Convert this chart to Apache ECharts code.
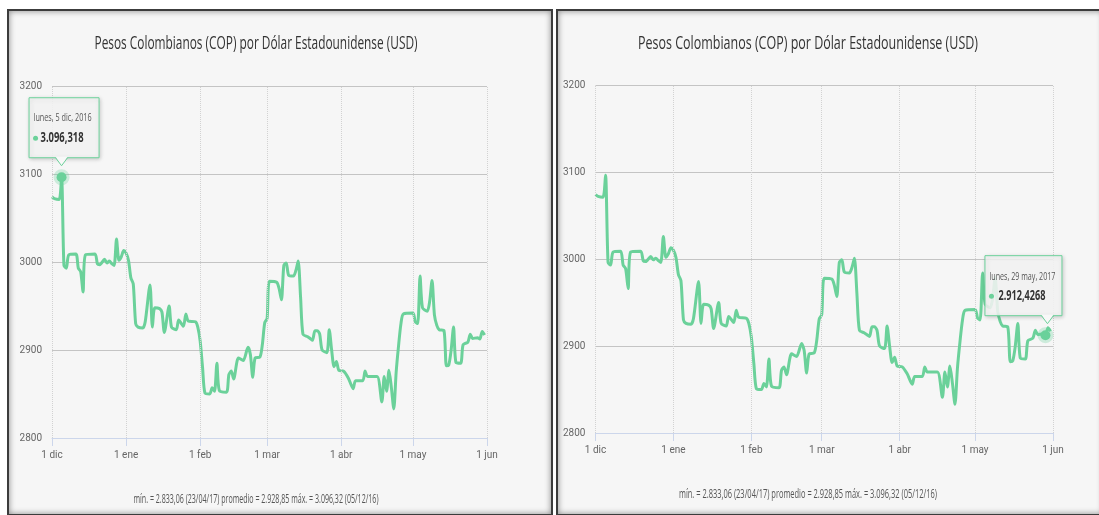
<!DOCTYPE html>
<html>
<head>
<meta charset="utf-8">
<script src="https://cdn.jsdelivr.net/npm/echarts@6/dist/echarts.min.js"></script>
<style>
	html, body { margin: 0; padding: 0; background: #fff; width: 1099px; height: 515px; overflow: hidden; }
	.frame { position: absolute; top: 9px; height: 503px; border: 2px solid #3c3c3c; background: #f6f6f6; box-shadow: inset 0 0 6px rgba(0, 0, 0, 0.45); }
	.chart { position: absolute; top: 12px; height: 500px; }
</style>
</head>
<body>
<div class="frame" style="left:7px;width:542px;"></div>
<div class="frame" style="left:556px;width:545px;"></div>
<div id="left" class="chart" style="left:10px;width:541px;"></div>
<div id="right" class="chart" style="left:560px;width:537px;"></div>
<script>
let axisFont = 'Roboto, sans-serif'
let textFont = "'Open Sans', sans-serif"
let green = '#6bd19a'

// tipo de cambio COP por USD
let dates = ['2016-12-01', '2016-12-02', '2016-12-04', '2016-12-05', '2016-12-06', '2016-12-07', '2016-12-08', '2016-12-11',
	'2016-12-12', '2016-12-13', '2016-12-14', '2016-12-15', '2016-12-19', '2016-12-20', '2016-12-21', '2016-12-23',
	'2016-12-24', '2016-12-25', '2016-12-26', '2016-12-27', '2016-12-28', '2016-12-29', '2016-12-30', '2016-12-31',
	'2017-01-01', '2017-01-02', '2017-01-03', '2017-01-04', '2017-01-05', '2017-01-06', '2017-01-08', '2017-01-09',
	'2017-01-11', '2017-01-12', '2017-01-13', '2017-01-15', '2017-01-16', '2017-01-17', '2017-01-19', '2017-01-20',
	'2017-01-22', '2017-01-23', '2017-01-25', '2017-01-26', '2017-01-27', '2017-01-30', '2017-01-31', '2017-02-01',
	'2017-02-02', '2017-02-03', '2017-02-05', '2017-02-06', '2017-02-07', '2017-02-08', '2017-02-09', '2017-02-12',
	'2017-02-13', '2017-02-14', '2017-02-15', '2017-02-17', '2017-02-19', '2017-02-21', '2017-02-22', '2017-02-23',
	'2017-02-24', '2017-02-26', '2017-02-27', '2017-02-28', '2017-03-01', '2017-03-02', '2017-03-05', '2017-03-06',
	'2017-03-07', '2017-03-08', '2017-03-09', '2017-03-10', '2017-03-12', '2017-03-13', '2017-03-14', '2017-03-15',
	'2017-03-16', '2017-03-18', '2017-03-19', '2017-03-20', '2017-03-21', '2017-03-22', '2017-03-23', '2017-03-24',
	'2017-03-26', '2017-03-27', '2017-03-28', '2017-03-29', '2017-03-30', '2017-03-31', '2017-04-02', '2017-04-04',
	'2017-04-06', '2017-04-07', '2017-04-10', '2017-04-11', '2017-04-12', '2017-04-16', '2017-04-18', '2017-04-19',
	'2017-04-20', '2017-04-21', '2017-04-22', '2017-04-23', '2017-04-24', '2017-04-25', '2017-04-26', '2017-04-27',
	'2017-05-01', '2017-05-02', '2017-05-03', '2017-05-04', '2017-05-05', '2017-05-07', '2017-05-08', '2017-05-09',
	'2017-05-10', '2017-05-11', '2017-05-12', '2017-05-14', '2017-05-15', '2017-05-16', '2017-05-17', '2017-05-18',
	'2017-05-19', '2017-05-21', '2017-05-22', '2017-05-24', '2017-05-25', '2017-05-26', '2017-05-28', '2017-05-29',
	'2017-05-30', '2017-05-31']
let values = [3074, 3072, 3071, 3096.32, 2996, 2993, 3008, 3009,
	2993, 2989, 2966, 3008, 3009, 2998, 2997, 3003,
	2999, 3001, 2998, 2996, 3026, 3002, 3006, 3013,
	3010, 3002, 2982, 2975, 2930, 2926, 2925, 2932,
	2974, 2926, 2948, 2947, 2943, 2920, 2950, 2926,
	2923, 2934, 2927, 2941, 2933, 2932, 2926, 2910,
	2880, 2851, 2850, 2857, 2853, 2885, 2854, 2852,
	2872, 2876, 2867, 2891, 2888, 2903, 2895, 2869,
	2891, 2892, 2906, 2931, 2936, 2978, 2977, 2970,
	2957, 2996, 2999, 2985, 2984, 2990, 3001, 2960,
	2918, 2915, 2913, 2911, 2922, 2922, 2918, 2900,
	2897, 2923, 2900, 2881, 2887, 2877, 2876, 2868,
	2856, 2865, 2865, 2876, 2870, 2870, 2841, 2870,
	2853, 2877, 2857, 2833.06, 2875, 2905, 2930, 2941,
	2942, 2932, 2930, 2984, 2948, 2944, 2955, 2979,
	2940, 2928, 2923, 2922, 2882, 2883, 2900, 2926,
	2886, 2885, 2906, 2909, 2918, 2913, 2914, 2912.43,
	2921, 2917]

let monthTicks = ['2016-12-01', '2017-01-01', '2017-02-01', '2017-03-01', '2017-04-01', '2017-05-01', '2017-06-01']
let monthLabels = ['1 dic', '1 ene', '1 feb', '1 mar', '1 abr', '1 may', '1 jun']
let yTicks = [2800, 2900, 3000, 3100, 3200]

let titleText = 'Pesos Colombianos (COP) por Dólar Estadounidense (USD)'
let footerText = 'mín. = 2.833,06 (23/04/17) promedio = 2.928,85 máx. = 3.096,32 (05/12/16)'

function toTime(s) {
	let p = s.split('-')
	return +new Date(+p[0], +p[1] - 1, +p[2])
}

// la captura original esta comprimida a lo ancho: se escala el texto
let measureCtx = document.createElement('canvas').getContext('2d')
function textEl(text, x, y, size, weight, color, width, align) {
	measureCtx.font = weight + ' ' + size + 'px ' + textFont
	let s = width / measureCtx.measureText(text).width
	return {
		type: 'text', x: x, y: y, scaleX: s, z: 102,
		style: { text: text, fontSize: size, fontWeight: weight, fontFamily: textFont, fill: color, align: align, verticalAlign: 'middle' }
	}
}

function tipGraphic(p, tip) {
	let bx = p[0] + tip.box[0], by = p[1] + tip.box[1], bw = tip.box[2], bh = tip.box[3]
	let px = p[0] + tip.arrowDx, bb = by + bh
	return [{
		type: 'rect', z: 100,
		shape: { x: bx + 0.5, y: by + 0.5, width: bw, height: bh },
		style: { fill: 'rgba(248,248,248,0.86)', stroke: green, lineWidth: 1, shadowBlur: 4, shadowColor: 'rgba(0,0,0,0.2)', shadowOffsetX: 1, shadowOffsetY: 1 }
	}, {
		type: 'polygon', z: 101,
		shape: { points: [[px - 6, bb - 0.5], [px, bb + 8], [px + 6, bb - 0.5]] },
		style: { fill: '#f8f8f8' }
	}, {
		type: 'polyline', z: 101,
		shape: { points: [[px - 6, bb + 0.5], [px, bb + 8.5], [px + 6, bb + 0.5]] },
		style: { stroke: green, fill: null, lineWidth: 1 }
	}, {
		type: 'circle', z: 102,
		shape: { cx: bx + tip.dotDx, cy: p[1] + tip.valueDy, r: 2.5 },
		style: { fill: green }
	},
		textEl(tip.title, bx + tip.textDx, p[1] + tip.titleDy, tip.titleSize, 'normal', '#555', tip.titleW, 'left'),
		textEl(tip.text, bx + tip.valueDx, p[1] + tip.valueDy, tip.valueSize, 'bold', '#333', tip.valueW, 'left')
	]
}

function rateChart(id, cfg) {
	let tickTimes = monthTicks.map(toTime)
	let tipTime = toTime(cfg.tip.date)
	let chart = echarts.init(document.getElementById(id))
	chart.setOption({
		animation: false,
		textStyle: { fontFamily: axisFont },
		grid: cfg.grid,
		xAxis: {
			type: 'value',
			min: tickTimes[0],
			max: tickTimes[tickTimes.length - 1],
			axisLine: { lineStyle: { color: '#ccd6eb', width: 1 } },
			axisTick: { show: true, length: 8, lineStyle: { color: '#ccd6eb' }, customValues: tickTimes },
			axisLabel: {
				customValues: tickTimes,
				color: '#666',
				fontSize: 10,
				margin: 12,
				hideOverlap: false,
				formatter: function(v) {
					let i = tickTimes.indexOf(v)
					return i >= 0 ? monthLabels[i] : ''
				}
			},
			splitLine: { show: false }
		},
		yAxis: {
			type: 'value',
			min: yTicks[0],
			max: yTicks[yTicks.length - 1],
			interval: 100,
			axisLine: { show: false },
			axisTick: { show: false },
			axisLabel: { color: '#666', fontSize: 10, margin: 10, formatter: v => String(v) },
			splitLine: { lineStyle: { color: '#c4c4c4', width: 1 } }
		},
		series: [{
			type: 'line',
			data: dates.map((d, i) => [toTime(d), values[i]]),
			smooth: 0.25,
			showSymbol: false,
			lineStyle: { color: green, width: 3 },
			markLine: {
				silent: true,
				symbol: 'none',
				label: { show: false },
				lineStyle: { color: '#d2d2d2', type: 'dotted', width: 1 },
				data: tickTimes.map(t => ({ xAxis: t }))
			},
			markPoint: {
				silent: true,
				label: { show: false },
				data: [{
					coord: [tipTime, cfg.tip.value],
					symbol: 'circle',
					symbolSize: 10,
					itemStyle: { color: green, borderColor: 'rgba(107,209,154,0.3)', borderWidth: 6 }
				}]
			}
		}]
	})
	let p = chart.convertToPixel({ gridIndex: 0 }, [tipTime, cfg.tip.value])
	chart.setOption({
		graphic: [
			textEl(titleText, cfg.titleX, cfg.titleY, 19, 'normal', '#333', cfg.titleW, 'center'),
			textEl(footerText, cfg.titleX, cfg.footerY, 12, 'normal', '#555', cfg.footerW, 'center')
		].concat(tipGraphic(p, cfg.tip))
	})
}

rateChart('left', {
	grid: { left: 42, right: 64, top: 74, bottom: 74 },
	titleX: 246, titleY: 32, titleW: 323, footerY: 488, footerW: 245,
	tip: {
		date: '2016-12-05', value: 3096.32, title: 'lunes, 5 dic, 2016', text: '3.096,318',
		box: [-33, -80, 70, 60], arrowDx: 0,
		textDx: 5, titleDy: -59, titleSize: 10, titleW: 58,
		dotDx: 7, valueDx: 12, valueDy: -39, valueSize: 14, valueW: 43
	}
})
rateChart('right', {
	grid: { left: 34, right: 44, top: 73, bottom: 79 },
	titleX: 248, titleY: 32, titleW: 340, footerY: 483, footerW: 258,
	tip: {
		date: '2017-05-29', value: 2912.43, title: 'lunes, 29 may, 2017', text: '2.912,4268',
		box: [-61, -80, 77, 60], arrowDx: 2,
		textDx: 5, titleDy: -58, titleSize: 11, titleW: 66,
		dotDx: 7, valueDx: 14, valueDy: -39, valueSize: 15, valueW: 47
	}
})
</script>
</body>
</html>
